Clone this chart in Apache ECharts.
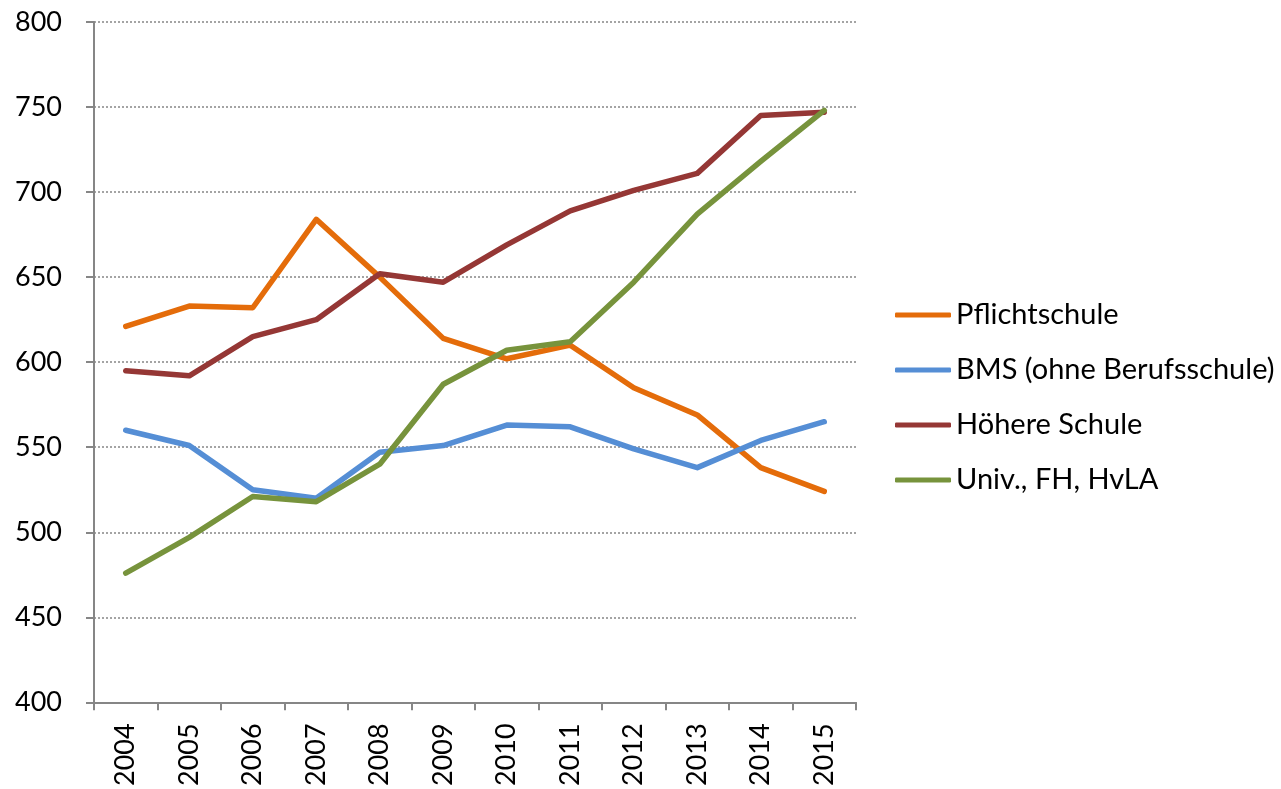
<!DOCTYPE html>
<html><head><meta charset="utf-8">
<script src="https://cdn.jsdelivr.net/npm/echarts@6/dist/echarts.min.js"></script>
<style>html,body{margin:0;padding:0;background:#fff}#c{width:1281px;height:789px}</style>
</head><body><div id="c"></div>
<script>
const years = ['2004','2005','2006','2007','2008','2009','2010','2011','2012','2013','2014','2015'];
const pflichtschule = [621, 633, 632, 684, 650, 614, 602, 610, 585, 569, 538, 524];
const bms = [560, 551, 525, 520, 547, 551, 563, 562, 549, 538, 554, 565];
const hoehere = [595, 592, 615, 625, 652, 647, 669, 689, 701, 711, 745, 747];
const univ = [476, 497, 521, 518, 540, 587, 607, 612, 647, 687, 718, 748];
const yTicks = {min: 400, max: 800, interval: 50};

const font = 'Lato, "Open Sans", sans-serif';
const chart = echarts.init(document.getElementById('c'));
function s(name, data, color){
  return {name, type:'line', data, symbol:'none', smooth:false,
    lineStyle:{color, width:5.5, cap:'round', join:'round'}, itemStyle:{color}};
}
chart.setOption({
  animation:false,
  grid:{left:94, right:425, top:22, bottom:85},
  legend:{orient:'vertical', left:895, top:298, padding:0, itemWidth:56, itemHeight:5, itemGap:21,
    icon:'roundRect',
    textStyle:{fontFamily:font, fontSize:29, color:'#000', lineHeight:34},
    data:['Pflichtschule','BMS (ohne Berufsschule)','Höhere Schule','Univ., FH, HvLA']},
  xAxis:{type:'category', data:years, boundaryGap:true,
    axisLine:{lineStyle:{color:'#868686', width:2}},
    axisTick:{show:true, length:8, interval:0, lineStyle:{color:'#868686', width:2}},
    axisLabel:{rotate:90, margin:21, fontFamily:font, fontSize:27, color:'#000', interval:0}},
  yAxis:{type:'value', min:yTicks.min, max:yTicks.max, interval:yTicks.interval,
    axisLine:{show:true, lineStyle:{color:'#868686', width:2}},
    axisTick:{show:true, length:8, inside:false, lineStyle:{color:'#868686', width:2}},
    axisLabel:{margin:32, fontFamily:font, fontSize:27, color:'#000'},
    splitLine:{show:true, lineStyle:{color:'#868686', type:[2,2], width:1.5}}},
  series:[
    s('Pflichtschule', pflichtschule, '#E46C0A'),
    s('BMS (ohne Berufsschule)', bms, '#558ED5'),
    s('Höhere Schule', hoehere, '#953735'),
    s('Univ., FH, HvLA', univ, '#77933C')
  ]
});
</script></body></html>
